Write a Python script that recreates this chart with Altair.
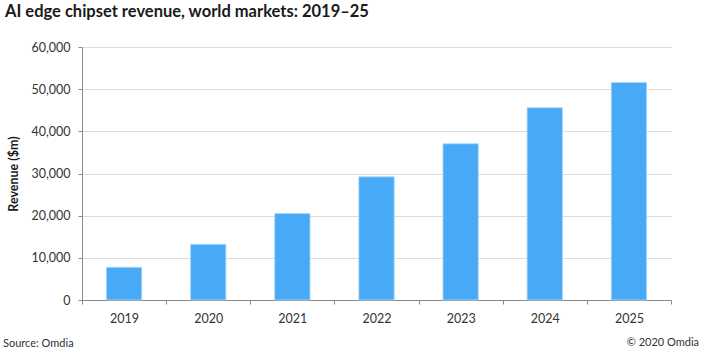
import altair as alt
import pandas as pd

# ---- data ----
years = ["2019", "2020", "2021", "2022", "2023", "2024", "2025"]
revenue = [7750, 13200, 20500, 29200, 37050, 45600, 51600]
y_ticks = [0, 10000, 20000, 30000, 40000, 50000, 60000]

title_text = "AI edge chipset revenue, world markets: 2019–25"
y_title = "Revenue ($m)"
source_text = "Source: Omdia"
copyright_text = "© 2020 Omdia"

df = pd.DataFrame({"year": years, "revenue": revenue})

W, H = 589, 253
FONT = "Lato"
AXIS_GRAY = "#8a8a8a"
TEXT = "#333333"

bars = alt.Chart(df).mark_bar(
    color="#48aaf6", stroke="#a9d8fb", strokeWidth=0.8,
    width=alt.RelativeBandSize(0.42)
).encode(
    x=alt.X("year:N", sort=years,
            scale=alt.Scale(paddingInner=0, paddingOuter=0),
            axis=alt.Axis(title=None, labelAngle=0, tickBand="extent",
                          domainColor=AXIS_GRAY, tickColor=AXIS_GRAY, tickSize=4,
                          labelPadding=8, labelFontSize=12.5, labelFont=FONT,
                          labelColor=TEXT, grid=False)),
    y=alt.Y("revenue:Q",
            scale=alt.Scale(domain=[0, 60000], nice=False),
            axis=alt.Axis(values=y_ticks, format=",.0f", title=y_title,
                          domainColor=AXIS_GRAY, tickColor=AXIS_GRAY, tickSize=4,
                          labelPadding=8, labelFontSize=12.5, labelFont=FONT,
                          labelColor=TEXT, grid=True, gridColor="#dcdcdc",
                          titleFont=FONT, titleFontSize=12.5, titleFontWeight="bold",
                          titleColor="#1a1a1a", titleX=-69, titleY=H / 2,
                          titleAlign="center", titleBaseline="middle")),
)

src = alt.Chart(pd.DataFrame({"t": [source_text]})).mark_text(
    align="left", baseline="middle", font=FONT, fontSize=11, color=TEXT
).encode(text="t:N", x=alt.value(-79), y=alt.value(H + 44))

cpy = alt.Chart(pd.DataFrame({"t": [copyright_text]})).mark_text(
    align="right", baseline="middle", font=FONT, fontSize=11, color=TEXT
).encode(text="t:N", x=alt.value(W + 28), y=alt.value(H + 43))

chart = alt.layer(bars, src, cpy).properties(
    width=W, height=H,
    title=alt.TitleParams(title_text, anchor="start", frame="group", dx=-77,
                          offset=21, fontSize=16.5, font=FONT, fontWeight="bold",
                          color="#1a1a1a"),
    padding={"left": 82, "top": 47, "right": 35, "bottom": 56},
    autosize="none",
    background="white",
).configure_view(stroke=None)

chart.save("out.html", embed_options={"renderer": "svg", "actions": False})
